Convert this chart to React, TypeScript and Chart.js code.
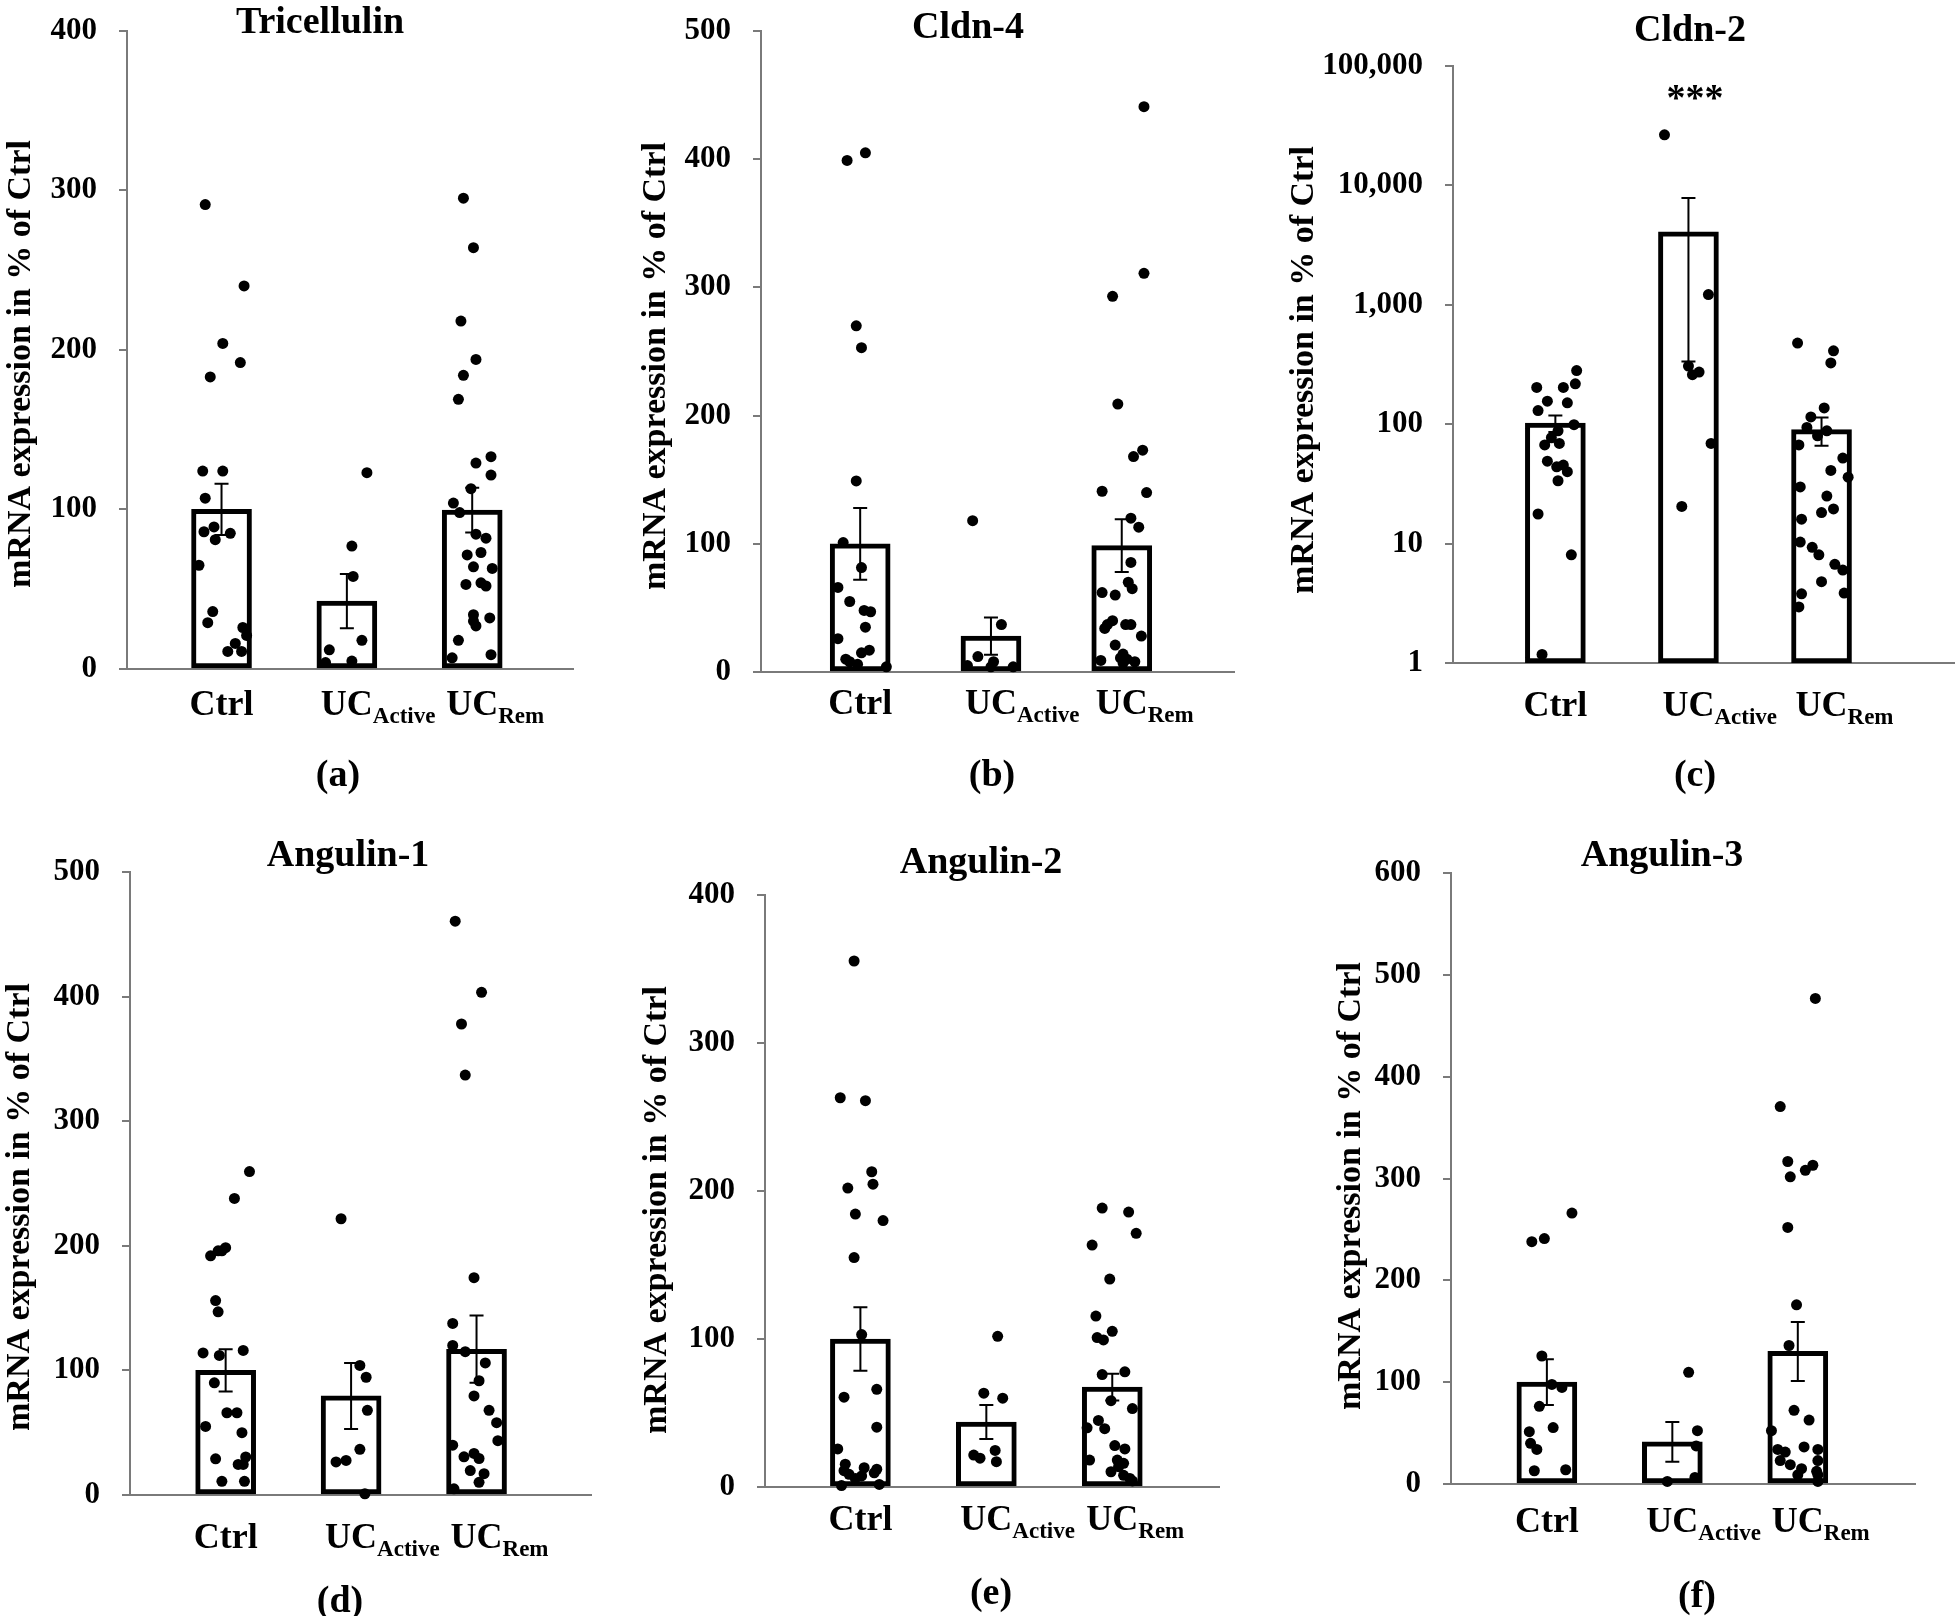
import React, { useEffect, useRef } from 'react';
import { Chart, registerables } from 'chart.js';

Chart.register(...registerables);

// ---------------- DATA ----------------
const LABEL_MAIN = ['Ctrl', 'UC', 'UC'];
const LABEL_SUB = ['', 'Active', 'Rem'];
const Y_TITLE = 'mRNA expression in % of Ctrl';
const LOG_TICKS = [1, 10, 100, 1000, 10000, 100000];

// (a) Tricellulin
const A_MEAN = [100, 42.6, 99.5];
const A_SEM = [16, 17, 14];
const A_CTRL = [291, 240, 204, 183, 192, 124, 124, 107, 86, 89, 81, 85, 65, 36, 29, 26, 21, 16, 11, 11];
const A_CTRL_DX = [-0.13, 0.18, 0.01, -0.09, 0.15, -0.15, 0.01, -0.13, -0.14, -0.06, -0.05, 0.07, -0.18, -0.07, -0.11, 0.17, 0.2, 0.11, 0.05, 0.16];
const A_ACT = [123, 77, 58, 18, 12, 5, 4];
const A_ACT_DX = [0.16, 0.04, 0.05, 0.12, -0.14, 0.04, -0.17];
const A_REM = [295, 264, 218, 194, 184, 169, 133, 129, 121.5, 113, 104, 98, 84.5, 82, 71.5, 73, 64, 63, 53, 54, 52, 34, 30, 27, 32, 18, 9, 7];
const A_REM_DX = [-0.07, 0.01, -0.09, 0.03, -0.07, -0.11, 0.15, 0.03, 0.15, -0.01, -0.15, -0.1, 0.03, 0.11, -0.04, 0.07, 0.01, 0.16, -0.05, 0.07, 0.11, 0.01, 0.01, 0.03, 0.14, -0.11, 0.15, -0.16];

// (b) Cldn-4
const B_MEAN = [100, 28, 98.6];
const B_SEM = [28, 14.5, 20.5];
const B_CTRL = [399, 405, 270, 253, 149, 101, 81.5, 66, 55, 48, 47, 35, 26, 17, 15, 10, 8, 6, 4];
const B_CTRL_DX = [-0.1, 0.04, -0.03, 0.01, -0.03, -0.13, 0.01, -0.17, -0.08, 0.03, 0.08, 0.04, -0.17, 0.07, 0.01, -0.11, -0.08, -0.02, 0.2];
const B_ACT = [118, 37, 12, 5, 8, 4, 4];
const B_ACT_DX = [-0.14, 0.08, -0.1, -0.18, 0.02, 0, 0.17];
const B_REM = [441, 311, 293, 209, 173, 168, 141, 140, 120, 113, 85.5, 70, 65, 62, 60, 40, 37, 34, 37, 37, 28, 21, 14, 11, 10, 8, 9, 7];
const B_REM_DX = [0.17, 0.17, -0.07, -0.03, 0.16, 0.09, -0.15, 0.19, 0.07, 0.13, 0.07, 0.05, 0.08, -0.15, -0.05, -0.07, -0.11, -0.13, 0.03, 0.07, 0.15, -0.05, 0.01, -0.01, 0.04, 0.1, -0.16, 0.01];

// (c) Cldn-2 (log scale)
const C_MEAN = [102, 4085, 90];
const C_SEM = [16, 3750, 24];
const C_CTRL = [281, 203, 203, 218, 156, 151, 130, 99, 88, 77, 67, 69, 49, 45.5, 44, 40, 33.6, 17.7, 8.05, 1.18];
const C_CTRL_DX = [0.16, -0.14, 0.06, 0.15, -0.06, 0.09, -0.13, 0.14, 0.02, -0.03, -0.08, 0.03, -0.06, 0.06, 0.01, 0.09, 0.02, -0.13, 0.12, -0.1];
const C_ACT = [26500, 1217, 307, 260, 273, 69, 20.5];
const C_ACT_DX = [-0.18, 0.15, 0, 0.03, 0.08, 0.17, -0.05];
const C_REM = [478, 412, 326, 137, 115, 94, 88, 80, 67, 52, 41, 36, 29.8, 25, 19.5, 18.2, 16, 10.3, 9.3, 8.05, 6.7, 6.0, 4.8, 3.8, 3.85, 2.95];
const C_REM_DX = [-0.18, 0.09, 0.07, 0.02, -0.08, -0.11, 0.04, -0.03, -0.17, 0.16, 0.07, 0.2, -0.16, 0.04, 0.09, 0, -0.15, -0.16, -0.07, -0.02, 0.1, 0.16, 0, -0.15, 0.17, -0.17];

// (d) Angulin-1
const D_MEAN = [100, 79.5, 117];
const D_SEM = [17, 26.5, 27];
const D_CTRL = [259.6, 238, 196, 192, 196, 198.5, 156, 147, 114, 112, 116, 90, 66, 66, 55, 50, 29, 30.5, 24.5, 24.5, 11, 11];
const D_CTRL_DX = [0.19, 0.07, -0.06, -0.12, -0.03, 0, -0.08, -0.06, -0.18, -0.05, 0.14, -0.09, 0.01, 0.09, -0.16, 0.13, -0.08, 0.16, 0.1, 0.14, -0.03, 0.15];
const D_ACT = [221.7, 104, 94.5, 68, 36.7, 26.5, 27.7, 1];
const D_ACT_DX = [-0.08, 0.07, 0.12, 0.13, 0.07, -0.12, -0.04, 0.11];
const D_REM = [460.5, 403.4, 378, 337, 174.4, 137.7, 120, 115, 106, 91.7, 79.5, 68, 58, 43.6, 40, 33.4, 30.6, 29.3, 19.6, 17.1, 10.2, 5];
const D_REM_DX = [-0.17, 0.04, -0.12, -0.09, -0.02, -0.19, -0.19, -0.09, 0.07, 0.02, -0.02, 0.1, 0.16, 0.17, -0.19, -0.02, -0.1, 0.02, -0.05, 0.06, 0.02, -0.18];

// (e) Angulin-2
const E_MEAN = [100, 43.9, 67.5];
const E_SEM = [21.5, 11.5, 9];
const E_CTRL = [355.4, 263, 261, 213, 202, 204.6, 184.4, 180, 155, 103, 66, 60.7, 40.4, 25.7, 15.4, 11, 13, 12, 8.6, 5.8, 7.5, 9.6, 1, 1.7];
const E_CTRL_DX = [-0.05, -0.16, 0.04, 0.09, -0.1, 0.1, -0.04, 0.18, -0.05, 0.01, 0.13, -0.13, 0.13, -0.18, -0.12, -0.13, 0.03, 0.13, -0.09, -0.04, 0.01, 0.11, -0.15, 0.15];
const E_ACT = [101.8, 63.4, 60, 24.7, 21.6, 19.5, 17.1];
const E_ACT_DX = [0.09, -0.02, 0.13, 0.07, -0.1, -0.05, 0.08];
const E_REM = [188.5, 185.8, 171.4, 163.5, 140.5, 115.5, 105.2, 101, 99.4, 76, 77.8, 58.3, 53, 45, 40, 39.4, 28, 25.7, 18.2, 16, 18.2, 13.7, 10.3, 7.9, 5.8, 4.1];
const E_REM_DX = [-0.08, 0.13, 0.19, -0.16, -0.02, -0.13, 0, -0.12, -0.07, -0.08, 0.1, -0.01, 0.16, -0.11, -0.2, -0.06, 0.02, 0.1, 0.04, 0.09, -0.18, 0.05, -0.01, 0.09, 0.14, 0.16];

// (f) Angulin-3
const F_MEAN = [100, 41.4, 130.2];
const F_SEM = [22.5, 19.5, 29];
const F_CTRL = [266, 238, 241, 125.7, 97.8, 94.8, 76.3, 51.4, 55.4, 40, 34, 13, 14];
const F_CTRL_DX = [0.2, -0.12, -0.02, -0.04, 0.04, 0.12, -0.06, -0.14, 0.05, -0.13, -0.08, -0.1, 0.15];
const F_ACT = [109.7, 52.4, 37.4, 6.5, 2.5];
const F_ACT_DX = [0.13, 0.2, 0.19, 0.18, -0.04];
const F_REM = [476.8, 370.6, 316.7, 313, 308, 301.7, 252, 176, 136, 72.3, 62.8, 52.4, 34, 31.4, 23, 36.4, 34, 23, 19, 15, 9, 9, 2.5, 12.5];
const F_REM_DX = [0.14, -0.14, -0.08, 0.12, 0.06, -0.06, -0.08, -0.01, -0.07, -0.03, 0.09, -0.21, -0.16, -0.1, -0.14, 0.05, 0.16, 0.16, -0.06, 0.03, 0, 0.16, 0.16, 0.15];

// ---------------- STYLE / LAYOUT ----------------
const FONT = "'Liberation Serif', 'Times New Roman', serif";
const AXIS = '#7a7a7a';

type Layout = {
  x: number; y: number; w: number; h: number;
  l: number; t: number; r: number; b: number;
  xMax: number; titleX: number; titleY: number;
  letterX: number; letterY: number; labelY: number;
  ytX: number; ytY: number;
  markX?: number; markY?: number;
};

type Panel = {
  title: string; letter: string; mean: number[]; sem: number[];
  groups: [number[], number[]][]; yMax: number; log: boolean; mark: string;
  layout: Layout;
};

const PANELS: Panel[] = [
  {
    title: 'Tricellulin', letter: '(a)', mean: A_MEAN, sem: A_SEM, yMax: 400, log: false, mark: '',
    groups: [[A_CTRL, A_CTRL_DX], [A_ACT, A_ACT_DX], [A_REM, A_REM_DX]],
    layout: { x: 0, y: -10, w: 620, h: 820, l: 127, t: 13, r: 573, b: 669, xMax: 2.55, titleX: 320, titleY: 23, letterX: 338, letterY: 776, labelY: 703, ytX: 21, ytY: 364 },
  },
  {
    title: 'Cldn-4', letter: '(b)', mean: B_MEAN, sem: B_SEM, yMax: 500, log: false, mark: '',
    groups: [[B_CTRL, B_CTRL_DX], [B_ACT, B_ACT_DX], [B_REM, B_REM_DX]],
    layout: { x: 640, y: -10, w: 620, h: 820, l: 761, t: 31, r: 1234, b: 672, xMax: 2.6, titleX: 968, titleY: 28, letterX: 992, letterY: 776, labelY: 702, ytX: 656, ytY: 366 },
  },
  {
    title: 'Cldn-2', letter: '(c)', mean: C_MEAN, sem: C_SEM, yMax: 100000, log: true, mark: '***',
    groups: [[C_CTRL, C_CTRL_DX], [C_ACT, C_ACT_DX], [C_REM, C_REM_DX]],
    layout: { x: 1286, y: -10, w: 674, h: 820, l: 1453, t: 66, r: 1960, b: 663, xMax: 2.73, titleX: 1690, titleY: 31, letterX: 1695, letterY: 776, labelY: 704, ytX: 1304, ytY: 370, markX: 1695, markY: 110 },
  },
  {
    title: 'Angulin-1', letter: '(d)', mean: D_MEAN, sem: D_SEM, yMax: 500, log: false, mark: '',
    groups: [[D_CTRL, D_CTRL_DX], [D_ACT, D_ACT_DX], [D_REM, D_REM_DX]],
    layout: { x: 0, y: 810, w: 620, h: 806, l: 130, t: 872, r: 591, b: 1495, xMax: 2.65, titleX: 348, titleY: 856, letterX: 340, letterY: 1602, labelY: 1536, ytX: 20, ytY: 1207 },
  },
  {
    title: 'Angulin-2', letter: '(e)', mean: E_MEAN, sem: E_SEM, yMax: 400, log: false, mark: '',
    groups: [[E_CTRL, E_CTRL_DX], [E_ACT, E_ACT_DX], [E_REM, E_REM_DX]],
    layout: { x: 640, y: 810, w: 620, h: 806, l: 765, t: 895, r: 1219, b: 1487, xMax: 2.59, titleX: 981, titleY: 863, letterX: 991, letterY: 1594, labelY: 1518, ytX: 657, ytY: 1210 },
  },
  {
    title: 'Angulin-3', letter: '(f)', mean: F_MEAN, sem: F_SEM, yMax: 600, log: false, mark: '',
    groups: [[F_CTRL, F_CTRL_DX], [F_ACT, F_ACT_DX], [F_REM, F_REM_DX]],
    layout: { x: 1332, y: 810, w: 628, h: 806, l: 1451, t: 873, r: 1915, b: 1484, xMax: 2.67, titleX: 1662, titleY: 856, letterX: 1697, letterY: 1597, labelY: 1520, ytX: 1351, ytY: 1186 },
  },
];

function buildChart(canvas: HTMLCanvasElement, p: Panel) {
  const L = p.layout;
  const pad = { top: L.t - L.y, bottom: L.y + L.h - L.b, right: L.x + L.w - L.r, left: 0 };
  const yWidth = L.l - L.x;
  const barData = p.mean.map((m, i) => ({ x: i, y: m }));
  const dotData = p.groups.flatMap((g, gi) => g[0].map((v, k) => ({ x: gi + g[1][k], y: v })));

  const decor = {
    id: 'decor',
    afterDatasetDraw(chart: any, args: any) {
      if (args.index !== 0) return;
      const ctx = chart.ctx;
      const xs = chart.scales.x;
      const ys = chart.scales.y;
      ctx.save();
      ctx.strokeStyle = '#000';
      ctx.lineWidth = 2;
      p.mean.forEach((m, i) => {
        const x = xs.getPixelForValue(i);
        const hi = ys.getPixelForValue(m + p.sem[i]);
        const lo = ys.getPixelForValue(Math.max(m - p.sem[i], p.log ? 1 : 0));
        ctx.beginPath();
        ctx.moveTo(x, hi); ctx.lineTo(x, lo);
        ctx.moveTo(x - 7, hi); ctx.lineTo(x + 7, hi);
        ctx.moveTo(x - 7, lo); ctx.lineTo(x + 7, lo);
        ctx.stroke();
      });
      ctx.restore();
    },
    afterDraw(chart: any) {
      const ctx = chart.ctx;
      const xs = chart.scales.x;
      ctx.save();
      ctx.fillStyle = '#000';
      ctx.textAlign = 'center';
      ctx.textBaseline = 'middle';
      ctx.font = `bold 38px ${FONT}`;
      ctx.fillText(p.title, L.titleX - L.x, L.titleY - L.y);
      ctx.font = `bold 38px ${FONT}`;
      ctx.fillText(p.letter, L.letterX - L.x, L.letterY - L.y);
      if (p.mark && L.markX !== undefined && L.markY !== undefined) {
        ctx.font = `bold 38px ${FONT}`;
        ctx.textBaseline = 'alphabetic';
        ctx.fillText(p.mark, L.markX - L.x, L.markY - L.y);
      }
      // rotated y-axis title
      ctx.save();
      ctx.translate(L.ytX - L.x, L.ytY - L.y);
      ctx.rotate(-Math.PI / 2);
      ctx.font = `bold 34px ${FONT}`;
      ctx.textAlign = 'center';
      ctx.textBaseline = 'middle';
      ctx.fillText(Y_TITLE, 0, 0);
      ctx.restore();
      // category labels with subscripts
      const base = L.labelY - L.y + 12;
      LABEL_MAIN.forEach((lab, i) => {
        const cx = xs.getPixelForValue(i);
        ctx.font = `bold 36px ${FONT}`;
        ctx.textAlign = 'center';
        ctx.textBaseline = 'alphabetic';
        ctx.fillText(lab, cx, base);
        const sub = LABEL_SUB[i];
        if (sub) {
          const w = ctx.measureText(lab).width;
          ctx.font = `bold 23px ${FONT}`;
          ctx.textAlign = 'left';
          ctx.fillText(sub, cx + w / 2, base + 8);
        }
      });
      ctx.restore();
    },
  };

  const yScale: any = p.log
    ? {
        type: 'logarithmic',
        min: 1,
        max: p.yMax,
        afterBuildTicks: (s: any) => { s.ticks = LOG_TICKS.map((v) => ({ value: v })); },
        ticks: {
          callback: (v: any) => Number(v).toLocaleString('en-US'),
        },
      }
    : {
        type: 'linear',
        min: 0,
        max: p.yMax,
        ticks: { stepSize: 100 },
      };

  Object.assign(yScale, {
    afterFit: (s: any) => { s.width = yWidth; },
    grid: { display: true, drawOnChartArea: false, drawTicks: true, tickLength: 8, color: AXIS, lineWidth: 2 },
    border: { display: true, color: AXIS, width: 2 },
    title: { display: false },
  });
  yScale.ticks = Object.assign({}, yScale.ticks, {
    color: '#000',
    padding: 22,
    font: { family: FONT, size: 31, weight: 'bold' },
  });

  return new Chart(canvas, {
    type: 'bar',
    data: {
      datasets: [
        {
          type: 'bar',
          data: barData as any,
          backgroundColor: '#ffffff',
          borderColor: '#000000',
          borderWidth: 5,
          borderSkipped: false,
          barThickness: 60,
          order: 2,
        } as any,
        {
          type: 'scatter',
          data: dotData as any,
          backgroundColor: '#000000',
          borderWidth: 0,
          pointRadius: 5.5,
          pointHoverRadius: 5.5,
          clip: false,
          order: 1,
        } as any,
      ],
    },
    options: {
      responsive: false,
      animation: false,
      devicePixelRatio: 1,
      layout: { padding: pad },
      plugins: { legend: { display: false }, tooltip: { enabled: false }, title: { display: false } },
      events: [],
      scales: {
        x: {
          type: 'linear',
          min: -0.5,
          max: L.xMax,
          ticks: { display: false },
          grid: { display: false },
          border: { display: true, color: AXIS, width: 2 },
          afterFit: (s: any) => { s.height = 0; },
        } as any,
        y: yScale,
      },
    },
    plugins: [decor as any],
  });
}

function PanelChart({ p }: { p: Panel }) {
  const ref = useRef<HTMLCanvasElement>(null);
  const L = p.layout;
  useEffect(() => {
    if (!ref.current) return;
    const chart = buildChart(ref.current, p);
    return () => chart.destroy();
  }, [p]);
  return (
    <canvas
      ref={ref}
      width={L.w}
      height={L.h}
      style={{ position: 'absolute', left: L.x, top: L.y, width: L.w, height: L.h }}
    />
  );
}

export default function App() {
  useEffect(() => {
    document.body.style.margin = '0';
  }, []);
  return (
    <div
      style={{
        position: 'absolute',
        left: 0,
        top: 0,
        width: 1960,
        height: 1616,
        overflow: 'hidden',
        background: '#ffffff',
      }}
    >
      {PANELS.map((p) => (
        <PanelChart key={p.letter} p={p} />
      ))}
    </div>
  );
}
